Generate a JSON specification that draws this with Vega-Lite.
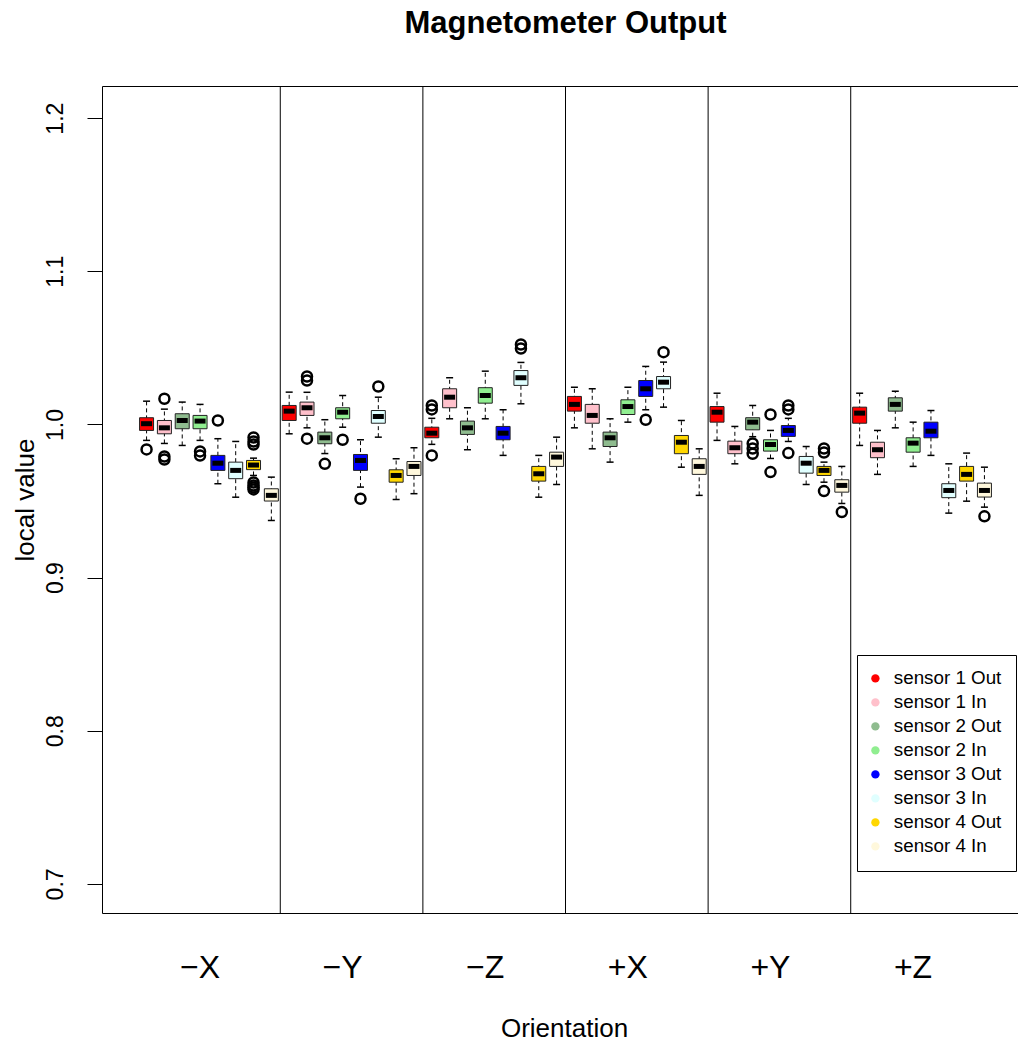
{
  "$schema": "https://vega.github.io/schema/vega-lite/v6.json",
  "autosize": {"type": "none"},
  "padding": {"left": 102, "top": 86, "right": 0, "bottom": 130},
  "width": 927,
  "height": 827,
  "background": "white",
  "title": {"text": "Magnetometer Output", "font": "Liberation Sans", "fontSize": 31, "fontWeight": "bold", "color": "black", "anchor": "middle", "frame": "group", "baseline": "alphabetic", "offset": 22},
  "config": {
    "view": {"stroke": "black", "strokeWidth": 1},
    "font": "Liberation Sans"
  },
  "datasets": {
    "boxes": [
      {"orientation": "−X", "sensor": "sensor 1 Out", "lo": 0.9896, "q1": 0.9961, "med": 1.0005, "q3": 1.0044, "hi": 1.0152},
      {"orientation": "−X", "sensor": "sensor 1 In", "lo": 0.9876, "q1": 0.9939, "med": 0.9978, "q3": 1.0026, "hi": 1.0100},
      {"orientation": "−X", "sensor": "sensor 2 Out", "lo": 0.9863, "q1": 0.9972, "med": 1.0026, "q3": 1.0070, "hi": 1.0146},
      {"orientation": "−X", "sensor": "sensor 2 In", "lo": 0.9896, "q1": 0.9972, "med": 1.0022, "q3": 1.0059, "hi": 1.0131},
      {"orientation": "−X", "sensor": "sensor 3 Out", "lo": 0.9613, "q1": 0.9700, "med": 0.9747, "q3": 0.9798, "hi": 0.9907},
      {"orientation": "−X", "sensor": "sensor 3 In", "lo": 0.9525, "q1": 0.9646, "med": 0.9700, "q3": 0.9754, "hi": 0.9889},
      {"orientation": "−X", "sensor": "sensor 4 Out", "lo": 0.9667, "q1": 0.9705, "med": 0.9735, "q3": 0.9765, "hi": 0.9780},
      {"orientation": "−X", "sensor": "sensor 4 In", "lo": 0.9373, "q1": 0.9500, "med": 0.9537, "q3": 0.9580, "hi": 0.9656},
      {"orientation": "−Y", "sensor": "sensor 1 Out", "lo": 0.9939, "q1": 1.0026, "med": 1.0087, "q3": 1.0124, "hi": 1.0211},
      {"orientation": "−Y", "sensor": "sensor 1 In", "lo": 0.9978, "q1": 1.0059, "med": 1.0109, "q3": 1.0146, "hi": 1.0210},
      {"orientation": "−Y", "sensor": "sensor 2 Out", "lo": 0.9810, "q1": 0.9874, "med": 0.9913, "q3": 0.9950, "hi": 1.0031},
      {"orientation": "−Y", "sensor": "sensor 2 In", "lo": 0.9982, "q1": 1.0037, "med": 1.0080, "q3": 1.0109, "hi": 1.0189},
      {"orientation": "−Y", "sensor": "sensor 3 Out", "lo": 0.9591, "q1": 0.9700, "med": 0.9765, "q3": 0.9804, "hi": 0.9900},
      {"orientation": "−Y", "sensor": "sensor 3 In", "lo": 0.9917, "q1": 1.0008, "med": 1.0052, "q3": 1.0091, "hi": 1.0178},
      {"orientation": "−Y", "sensor": "sensor 4 Out", "lo": 0.9510, "q1": 0.9623, "med": 0.9667, "q3": 0.9704, "hi": 0.9776},
      {"orientation": "−Y", "sensor": "sensor 4 In", "lo": 0.9548, "q1": 0.9667, "med": 0.9726, "q3": 0.9758, "hi": 0.9848},
      {"orientation": "−Z", "sensor": "sensor 1 Out", "lo": 0.9870, "q1": 0.9913, "med": 0.9943, "q3": 0.9982, "hi": 1.0040},
      {"orientation": "−Z", "sensor": "sensor 1 In", "lo": 1.0037, "q1": 1.0109, "med": 1.0178, "q3": 1.0233, "hi": 1.0305},
      {"orientation": "−Z", "sensor": "sensor 2 Out", "lo": 0.9835, "q1": 0.9935, "med": 0.9978, "q3": 1.0022, "hi": 1.0109},
      {"orientation": "−Z", "sensor": "sensor 2 In", "lo": 1.0037, "q1": 1.0139, "med": 1.0189, "q3": 1.0240, "hi": 1.0348},
      {"orientation": "−Z", "sensor": "sensor 3 Out", "lo": 0.9798, "q1": 0.9900, "med": 0.9943, "q3": 0.9987, "hi": 1.0096},
      {"orientation": "−Z", "sensor": "sensor 3 In", "lo": 1.0135, "q1": 1.0255, "med": 1.0305, "q3": 1.0352, "hi": 1.0405},
      {"orientation": "−Z", "sensor": "sensor 4 Out", "lo": 0.9525, "q1": 0.9630, "med": 0.9678, "q3": 0.9726, "hi": 0.9798},
      {"orientation": "−Z", "sensor": "sensor 4 In", "lo": 0.9608, "q1": 0.9726, "med": 0.9787, "q3": 0.9819, "hi": 0.9917},
      {"orientation": "+X", "sensor": "sensor 1 Out", "lo": 0.9978, "q1": 1.0087, "med": 1.0131, "q3": 1.0183, "hi": 1.0243},
      {"orientation": "+X", "sensor": "sensor 1 In", "lo": 0.9841, "q1": 1.0008, "med": 1.0059, "q3": 1.0131, "hi": 1.0233},
      {"orientation": "+X", "sensor": "sensor 2 Out", "lo": 0.9754, "q1": 0.9856, "med": 0.9913, "q3": 0.9950, "hi": 1.0037},
      {"orientation": "+X", "sensor": "sensor 2 In", "lo": 1.0015, "q1": 1.0065, "med": 1.0117, "q3": 1.0161, "hi": 1.0243},
      {"orientation": "+X", "sensor": "sensor 3 Out", "lo": 1.0096, "q1": 1.0183, "med": 1.0233, "q3": 1.0287, "hi": 1.0379},
      {"orientation": "+X", "sensor": "sensor 3 In", "lo": 1.0113, "q1": 1.0233, "med": 1.0276, "q3": 1.0313, "hi": 1.0407},
      {"orientation": "+X", "sensor": "sensor 4 Out", "lo": 0.9721, "q1": 0.9809, "med": 0.9884, "q3": 0.9928, "hi": 1.0026},
      {"orientation": "+X", "sensor": "sensor 4 In", "lo": 0.9537, "q1": 0.9674, "med": 0.9726, "q3": 0.9776, "hi": 0.9841},
      {"orientation": "+Y", "sensor": "sensor 1 Out", "lo": 0.9896, "q1": 1.0015, "med": 1.0080, "q3": 1.0117, "hi": 1.0204},
      {"orientation": "+Y", "sensor": "sensor 1 In", "lo": 0.9743, "q1": 0.9809, "med": 0.9848, "q3": 0.9891, "hi": 0.9987},
      {"orientation": "+Y", "sensor": "sensor 2 Out", "lo": 0.9920, "q1": 0.9965, "med": 1.0015, "q3": 1.0044, "hi": 1.0124},
      {"orientation": "+Y", "sensor": "sensor 2 In", "lo": 0.9778, "q1": 0.9826, "med": 0.9869, "q3": 0.9900, "hi": 0.9961},
      {"orientation": "+Y", "sensor": "sensor 3 Out", "lo": 0.9889, "q1": 0.9922, "med": 0.9961, "q3": 0.9993, "hi": 1.0040},
      {"orientation": "+Y", "sensor": "sensor 3 In", "lo": 0.9608, "q1": 0.9682, "med": 0.9747, "q3": 0.9791, "hi": 0.9856},
      {"orientation": "+Y", "sensor": "sensor 4 Out", "lo": 0.9623, "q1": 0.9667, "med": 0.9700, "q3": 0.9726, "hi": 0.9754},
      {"orientation": "+Y", "sensor": "sensor 4 In", "lo": 0.9484, "q1": 0.9558, "med": 0.9602, "q3": 0.9639, "hi": 0.9726},
      {"orientation": "+Z", "sensor": "sensor 1 Out", "lo": 0.9863, "q1": 1.0008, "med": 1.0074, "q3": 1.0113, "hi": 1.0204},
      {"orientation": "+Z", "sensor": "sensor 1 In", "lo": 0.9674, "q1": 0.9783, "med": 0.9835, "q3": 0.9884, "hi": 0.9961},
      {"orientation": "+Z", "sensor": "sensor 2 Out", "lo": 0.9978, "q1": 1.0087, "med": 1.0131, "q3": 1.0174, "hi": 1.0217},
      {"orientation": "+Z", "sensor": "sensor 2 In", "lo": 0.9726, "q1": 0.9819, "med": 0.9878, "q3": 0.9913, "hi": 1.0015},
      {"orientation": "+Z", "sensor": "sensor 3 Out", "lo": 0.9798, "q1": 0.9913, "med": 0.9956, "q3": 1.0015, "hi": 1.0091},
      {"orientation": "+Z", "sensor": "sensor 3 In", "lo": 0.9421, "q1": 0.9522, "med": 0.9569, "q3": 0.9613, "hi": 0.9743},
      {"orientation": "+Z", "sensor": "sensor 4 Out", "lo": 0.9499, "q1": 0.9630, "med": 0.9674, "q3": 0.9726, "hi": 0.9813},
      {"orientation": "+Z", "sensor": "sensor 4 In", "lo": 0.9460, "q1": 0.9526, "med": 0.9569, "q3": 0.9617, "hi": 0.9721}
    ],
    "outliers": [
      {"orientation": "−X", "sensor": "sensor 1 Out", "value": 0.9837},
      {"orientation": "−X", "sensor": "sensor 1 In", "value": 1.0168},
      {"orientation": "−X", "sensor": "sensor 1 In", "value": 0.9791},
      {"orientation": "−X", "sensor": "sensor 1 In", "value": 0.9771},
      {"orientation": "−X", "sensor": "sensor 2 In", "value": 0.9824},
      {"orientation": "−X", "sensor": "sensor 2 In", "value": 0.9797},
      {"orientation": "−X", "sensor": "sensor 3 Out", "value": 1.0026},
      {"orientation": "−X", "sensor": "sensor 4 Out", "value": 0.9915},
      {"orientation": "−X", "sensor": "sensor 4 Out", "value": 0.9889},
      {"orientation": "−X", "sensor": "sensor 4 Out", "value": 0.9869},
      {"orientation": "−X", "sensor": "sensor 4 Out", "value": 0.9621},
      {"orientation": "−X", "sensor": "sensor 4 Out", "value": 0.9602},
      {"orientation": "−X", "sensor": "sensor 4 Out", "value": 0.9589},
      {"orientation": "−X", "sensor": "sensor 4 Out", "value": 0.9576},
      {"orientation": "−Y", "sensor": "sensor 1 In", "value": 1.0313},
      {"orientation": "−Y", "sensor": "sensor 1 In", "value": 1.0287},
      {"orientation": "−Y", "sensor": "sensor 1 In", "value": 0.9907},
      {"orientation": "−Y", "sensor": "sensor 2 Out", "value": 0.9743},
      {"orientation": "−Y", "sensor": "sensor 2 In", "value": 0.9900},
      {"orientation": "−Y", "sensor": "sensor 3 Out", "value": 0.9515},
      {"orientation": "−Y", "sensor": "sensor 3 In", "value": 1.0248},
      {"orientation": "−Z", "sensor": "sensor 1 Out", "value": 1.0124},
      {"orientation": "−Z", "sensor": "sensor 1 Out", "value": 1.0098},
      {"orientation": "−Z", "sensor": "sensor 1 Out", "value": 0.9798},
      {"orientation": "−Z", "sensor": "sensor 3 In", "value": 1.0522},
      {"orientation": "−Z", "sensor": "sensor 3 In", "value": 1.0496},
      {"orientation": "+X", "sensor": "sensor 3 Out", "value": 1.0031},
      {"orientation": "+X", "sensor": "sensor 3 In", "value": 1.0472},
      {"orientation": "+Y", "sensor": "sensor 2 Out", "value": 0.9876},
      {"orientation": "+Y", "sensor": "sensor 2 Out", "value": 0.9843},
      {"orientation": "+Y", "sensor": "sensor 2 Out", "value": 0.9808},
      {"orientation": "+Y", "sensor": "sensor 2 In", "value": 1.0065},
      {"orientation": "+Y", "sensor": "sensor 2 In", "value": 0.9689},
      {"orientation": "+Y", "sensor": "sensor 3 Out", "value": 1.0124},
      {"orientation": "+Y", "sensor": "sensor 3 Out", "value": 1.0098},
      {"orientation": "+Y", "sensor": "sensor 3 Out", "value": 0.9813},
      {"orientation": "+Y", "sensor": "sensor 4 Out", "value": 0.9843},
      {"orientation": "+Y", "sensor": "sensor 4 Out", "value": 0.9817},
      {"orientation": "+Y", "sensor": "sensor 4 Out", "value": 0.9565},
      {"orientation": "+Y", "sensor": "sensor 4 In", "value": 0.9428},
      {"orientation": "+Z", "sensor": "sensor 4 In", "value": 0.9400}
    ],
    "separators": [
      {"orientation": "−X"}, {"orientation": "−Y"}, {"orientation": "−Z"}, {"orientation": "+X"}, {"orientation": "+Y"}
    ]
  },
  "encoding": {
    "x": {
      "field": "orientation", "type": "nominal",
      "scale": {"type": "band", "domain": ["−X", "−Y", "−Z", "+X", "+Y", "+Z"], "paddingInner": 0, "paddingOuter": 0.25},
      "axis": {
        "orient": "bottom", "domain": false, "ticks": false, "tickSize": 0, "grid": false,
        "labelAngle": 0, "labelFont": "Liberation Sans", "labelFontSize": 32, "labelColor": "black",
        "labelBaseline": "alphabetic", "labelAlign": "center", "labelPadding": 64, "labelOffset": -9,
        "title": "Orientation", "titleFont": "Liberation Sans", "titleFontSize": 26, "titleFontWeight": "normal", "titleColor": "black",
        "titleBaseline": "alphabetic", "titleAlign": "center", "titleAnchor": "middle", "titleX": 462, "titleY": 123
      }
    }
  },
  "layer": [
    {
      "data": {"name": "separators"},
      "mark": {"type": "rule", "color": "black", "strokeWidth": 1},
      "encoding": {
        "x": {"field": "orientation", "type": "nominal", "bandPosition": 1}
      }
    },
    {
      "data": {"name": "boxes"},
      "mark": {"type": "rule", "color": "black", "strokeWidth": 1, "strokeDash": [4, 3]},
      "encoding": {
        "xOffset": {"field": "sensor", "type": "nominal", "scale": {"type": "band", "domain": ["sensor 1 Out", "sensor 1 In", "sensor 2 Out", "sensor 2 In", "sensor 3 Out", "sensor 3 In", "sensor 4 Out", "sensor 4 In"], "paddingInner": 0, "paddingOuter": 0}},
        "y": {
          "field": "lo", "type": "quantitative",
          "scale": {"domain": [0.681, 1.221], "nice": false, "zero": false},
          "axis": {
            "orient": "left", "values": [0.7, 0.8, 0.9, 1.0, 1.1, 1.2], "format": ".1f", "grid": false, "domain": false,
            "ticks": true, "tickSize": 15, "tickColor": "black", "tickWidth": 1,
            "labelAngle": 270, "labelAlign": "center", "labelBaseline": "alphabetic", "labelPadding": 25,
            "labelFont": "Liberation Sans", "labelFontSize": 23, "labelColor": "black",
            "title": "local value", "titleFont": "Liberation Sans", "titleFontSize": 26, "titleFontWeight": "normal", "titleColor": "black",
            "titleAngle": 270, "titleAlign": "center", "titleBaseline": "alphabetic", "titleX": -69, "titleY": 413.5
          }
        },
        "y2": {"field": "hi"}
      }
    },
    {
      "data": {"name": "boxes"},
      "mark": {"type": "tick", "color": "black", "orient": "horizontal", "size": 7, "thickness": 1.5, "opacity": 1},
      "encoding": {
        "xOffset": {"field": "sensor", "type": "nominal"},
        "y": {"field": "hi", "type": "quantitative"}
      }
    },
    {
      "data": {"name": "boxes"},
      "mark": {"type": "tick", "color": "black", "orient": "horizontal", "size": 7, "thickness": 1.5, "opacity": 1},
      "encoding": {
        "xOffset": {"field": "sensor", "type": "nominal"},
        "y": {"field": "lo", "type": "quantitative"}
      }
    },
    {
      "data": {"name": "boxes"},
      "mark": {"type": "bar", "size": 14, "stroke": "#222222", "strokeWidth": 1},
      "encoding": {
        "xOffset": {"field": "sensor", "type": "nominal"},
        "y": {"field": "q1", "type": "quantitative"},
        "y2": {"field": "q3"},
        "fill": {
          "field": "sensor", "type": "nominal",
          "scale": {"domain": ["sensor 1 Out", "sensor 1 In", "sensor 2 Out", "sensor 2 In", "sensor 3 Out", "sensor 3 In", "sensor 4 Out", "sensor 4 In"],
                    "range": ["#FF0000", "#FFC0CB", "#8FBC8F", "#90EE90", "#0000FF", "#E0FFFF", "#FFD700", "#FFF8DC"]},
          "legend": {
            "orient": "none", "legendX": 755, "legendY": 569, "title": null,
            "padding": 14, "strokeColor": "black", "fillColor": "white",
            "symbolType": "circle", "symbolSize": 70, "symbolStrokeWidth": 0, "symbolOpacity": 1, "symbolOffset": -5,
            "labelFont": "Liberation Sans", "labelFontSize": 18.8, "labelColor": "black", "labelOffset": 9,
            "rowPadding": 4
          }
        }
      }
    },
    {
      "data": {"name": "boxes"},
      "mark": {"type": "tick", "color": "black", "orient": "horizontal", "size": 11, "thickness": 5, "opacity": 1},
      "encoding": {
        "xOffset": {"field": "sensor", "type": "nominal"},
        "y": {"field": "med", "type": "quantitative"}
      }
    },
    {
      "data": {"name": "outliers"},
      "mark": {"type": "point", "shape": "circle", "filled": false, "stroke": "black", "strokeWidth": 2.5, "size": 100, "opacity": 1},
      "encoding": {
        "xOffset": {"field": "sensor", "type": "nominal"},
        "y": {"field": "value", "type": "quantitative"}
      }
    }
  ]
}
